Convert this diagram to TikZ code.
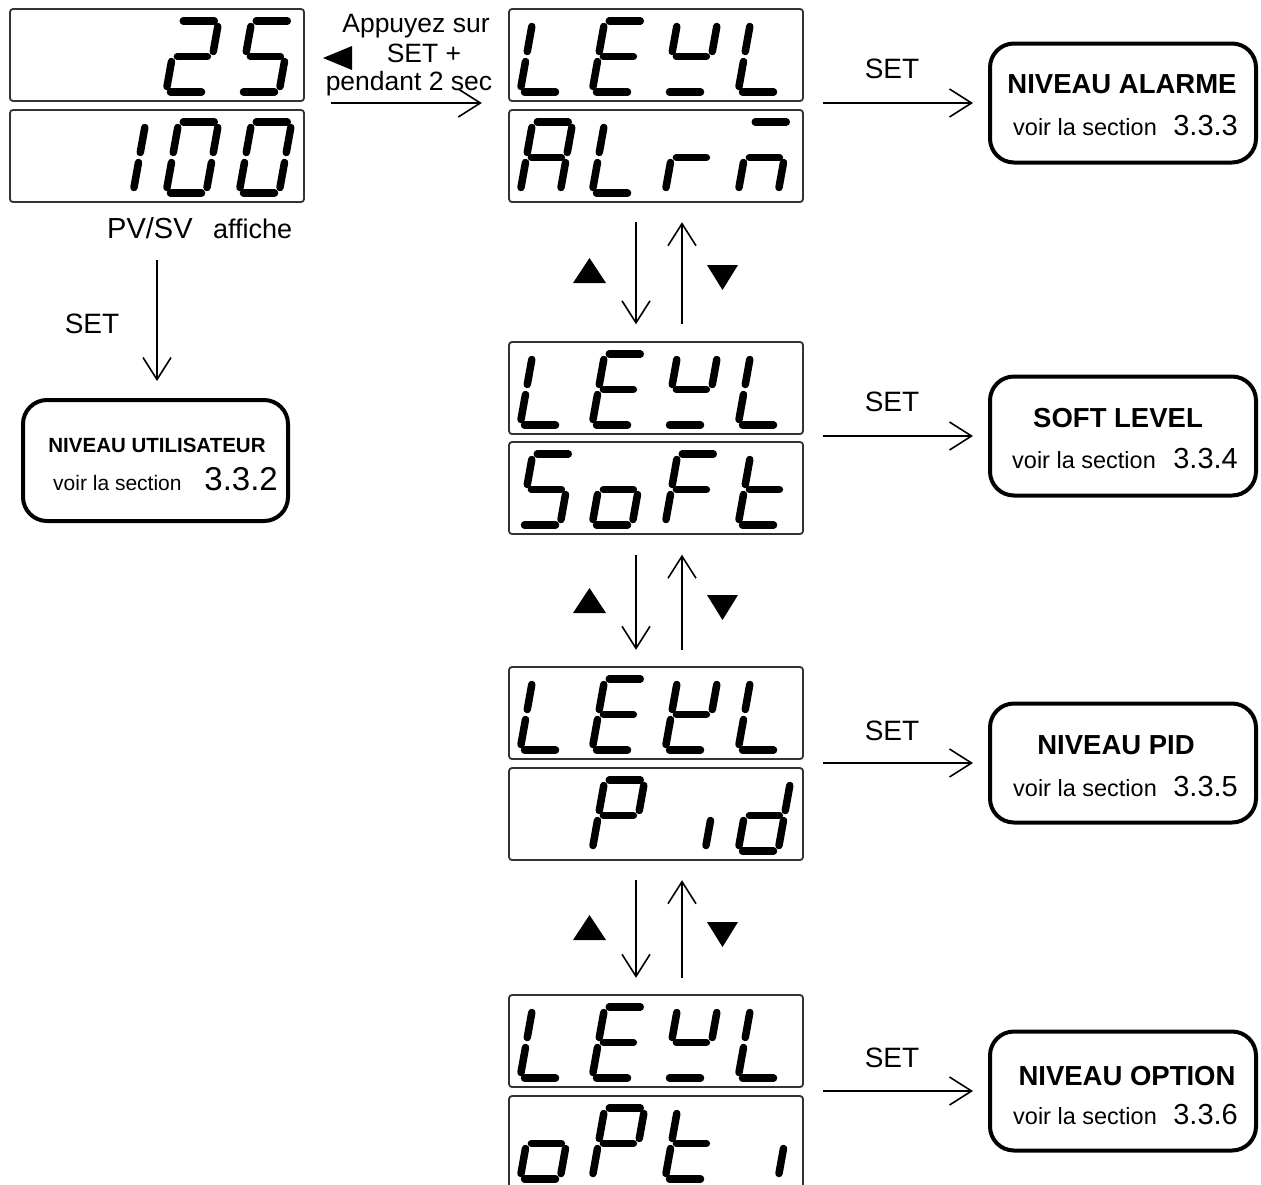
\documentclass[tikz,border=0pt]{standalone}
\usepackage{fontspec}
\setmainfont{Liberation Sans}
\usetikzlibrary{arrows.meta,calc}
\tikzset{
  seg/.style={line width=7.5pt, line cap=round},
  disp/.style={draw=black!80, line width=1.8pt, rounded corners=3pt, minimum width=294pt, minimum height=92pt, inner sep=0pt},
  grp/.style={minimum width=294pt, minimum height=193pt, inner sep=0pt},
  lvlbox/.style={draw, line width=4pt, rounded corners=24pt, minimum width=266pt, minimum height=119pt, inner sep=0pt},
  arr/.style={line width=1.6pt, -{Straight Barb[length=22pt,width=28pt]}},
  txt/.style={inner sep=0pt, anchor=base},
  setlbl/.style={txt, font=\fontsize{28}{30}\selectfont},
  ttl/.style={txt, font=\bfseries\fontsize{27.5}{30}\selectfont},
  voir/.style={txt, anchor=base west, font=\fontsize{23.5}{26}\selectfont},
  num/.style={txt, anchor=base east, font=\fontsize{29}{30}\selectfont},
  note/.style={txt, font=\fontsize{26.5}{28}\selectfont},
}
\def\segXa{\draw[seg] (4.5pt,71pt)--(35.5pt,71pt);}
\def\segXb{\draw[seg] (40pt,65.5pt)--(40pt,40.5pt);}
\def\segXc{\draw[seg] (40pt,30.5pt)--(40pt,5.5pt);}
\def\segXd{\draw[seg] (4.5pt,0pt)--(35.5pt,0pt);}
\def\segXe{\draw[seg] (0pt,30.5pt)--(0pt,5.5pt);}
\def\segXf{\draw[seg] (0pt,65.5pt)--(0pt,40.5pt);}
\def\segXg{\draw[seg] (5pt,35.5pt)--(35pt,35.5pt);}
\newcommand{\sevseg}[3]{%
  \begin{scope}[shift={(#1,#2)}, xslant=0.18]
    \foreach \s in {#3} {\csname segX\s\endcsname}
  \end{scope}}
\newcommand{\levlrow}[1]{%
  \sevseg{520}{#1}{d,e,f}\sevseg{592}{#1}{a,d,e,f,g}\sevseg{665}{#1}{b,d,f,g}\sevseg{738}{#1}{d,e,f}}
\begin{document}
\begin{tikzpicture}[x=1pt, y=-1pt]
\clip (0,0) rectangle (1261,1184);
\fill[white] (0,0) rectangle (1261,1184);

% left display (PV/SV)
\node[grp] (L) at (157,105.5) {};
\node[disp] (Lt) at (157,55) {};
\node[disp] (Lb) at (157,156) {};
\sevseg{166}{92}{a,b,d,e,g}
\sevseg{239}{92}{a,c,d,f,g}
\sevseg{93}{193}{b,c}
\sevseg{166}{193}{a,b,c,d,e,f}
\sevseg{239}{193}{a,b,c,d,e,f}
\node[txt, anchor=base west, font=\fontsize{29}{30}\selectfont] (pv) at (107,238) {PV/SV};
\node[txt, anchor=base west, font=\fontsize{27}{30}\selectfont] (aff) at (213,238) {affiche};

% middle displays
\node[grp] (g1) at (656,105.5) {};
\node[disp] (g1t) at (656,55) {};
\node[disp] (g1b) at (656,156) {};
\node[grp] (g2) at (656,438) {};
\node[disp] (g2t) at (656,388) {};
\node[disp] (g2b) at (656,488) {};
\node[grp] (g3) at (656,763.5) {};
\node[disp] (g3t) at (656,713) {};
\node[disp] (g3b) at (656,814) {};
\node[grp] (g4) at (656,1091.5) {};
\node[disp] (g4t) at (656,1041) {};
\node[disp] (g4b) at (656,1142) {};

\levlrow{92}
\sevseg{520}{193}{a,b,c,e,f,g}\sevseg{592}{193}{d,e,f}\sevseg{665}{193}{e,g}\sevseg{738}{193}{a,c,e,g}
\levlrow{425}
\sevseg{520}{525}{a,c,d,f,g}\sevseg{592}{525}{c,d,e,g}\sevseg{665}{525}{a,e,f,g}\sevseg{738}{525}{d,e,f,g}
\sevseg{520}{750}{d,e,f}\sevseg{592}{750}{a,d,e,f,g}\sevseg{665}{750}{b,d,e,f,g}\sevseg{738}{750}{d,e,f}
\sevseg{592}{851}{a,b,e,f,g}\sevseg{665}{851}{c}\sevseg{738}{851}{b,c,d,e,g}
\levlrow{1078}
\sevseg{520}{1179}{c,d,e,g}\sevseg{592}{1179}{a,b,e,f,g}\sevseg{665}{1179}{d,e,f,g}\sevseg{738}{1179}{c}

% level boxes
\node[lvlbox, minimum width=265pt, minimum height=121pt] (lu) at (155.5,460.5) {};
\node[ttl, font=\bfseries\fontsize{20.5}{22}\selectfont] (lut) at (157,452) {NIVEAU UTILISATEUR};
\node[voir, font=\fontsize{21}{23}\selectfont] (luv) at (53,490) {voir la section};
\node[num, font=\fontsize{33}{34}\selectfont] (lun) at (278,490) {3.3.2};

\node[lvlbox] (b1) at (1123,103) {};
\node[ttl] (b1t) at (1122,93) {NIVEAU ALARME};
\node[voir] (b1v) at (1013,135) {voir la section};
\node[num] (b1n) at (1238,135) {3.3.3};

\node[lvlbox] (b2) at (1123,436) {};
\node[ttl] (b2t) at (1118,427) {SOFT LEVEL};
\node[voir] (b2v) at (1012,468) {voir la section};
\node[num] (b2n) at (1238,468) {3.3.4};

\node[lvlbox] (b3) at (1123,763) {};
\node[ttl] (b3t) at (1116,754) {NIVEAU PID};
\node[voir] (b3v) at (1013,796) {voir la section};
\node[num] (b3n) at (1238,796) {3.3.5};

\node[lvlbox] (b4) at (1123,1091) {};
\node[ttl] (b4t) at (1127,1085) {NIVEAU OPTION};
\node[voir] (b4v) at (1013,1124) {voir la section};
\node[num] (b4n) at (1238,1124) {3.3.6};

% SET labels
\node[setlbl] (s0) at (92,333) {SET};
\node[setlbl] (s1) at (892,78) {SET};
\node[setlbl] (s2) at (892,411) {SET};
\node[setlbl] (s3) at (892,740) {SET};
\node[setlbl] (s4) at (892,1067) {SET};

% top note
\node[note] (n1) at (416,32) {Appuyez sur};
\node[note] (n2) at (424,62) {SET +};
\node[note] (n3) at (409,90) {pendant 2 sec};
\fill (323,58) -- (352,46) -- (352,70) -- cycle;

% connectors
\draw[arr, shorten <=27pt, shorten >=27pt] ([yshift=2.5pt]L.east) -- ([yshift=2.5pt]g1.west);
\draw[arr, shorten <=58pt, shorten >=17pt] (L.south) -- (L.south |- lu.north);
\foreach \g/\b in {g1/b1,g2/b2,g3/b3,g4/b4}
  \draw[arr, shorten <=20pt, shorten >=15pt] (\g.east |- \b.west) -- (\b.west);
\foreach \a/\c in {g1/g2,g2/g3,g3/g4} {
  \draw[arr, shorten <=20pt, shorten >=17pt] ([xshift=-20pt]\a.south) -- ([xshift=-20pt]\c.north);
  \draw[arr, shorten <=17pt, shorten >=20pt] ([xshift=26pt]\c.north) -- ([xshift=26pt]\a.south);
}
\foreach \y in {223,553,880} {
  \fill (573,\y+60) -- (606,\y+60) -- (589.5,\y+35) -- cycle;
  \fill (707,\y+42) -- (738,\y+42) -- (722.5,\y+67) -- cycle;
}
\end{tikzpicture}
\end{document}
